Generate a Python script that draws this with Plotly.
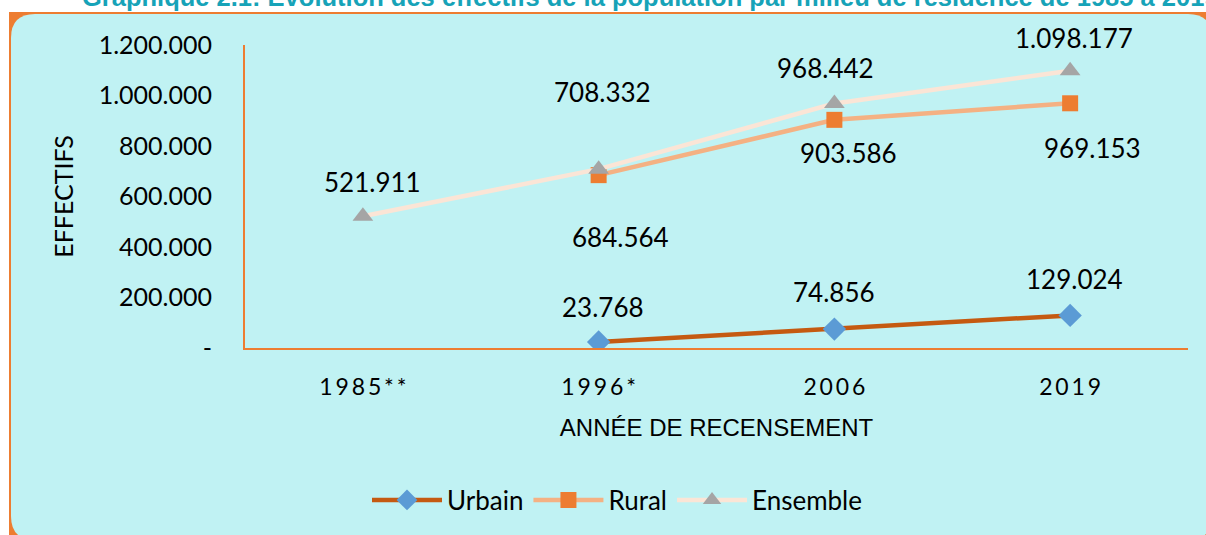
import plotly.graph_objects as go

# ---- data ----
categories = ["1985**", "1996*", "2006", "2019"]
urbain = [None, 23768, 74856, 129024]
rural = [None, 684564, 903586, 969153]
ensemble = [521911, 708332, 968442, 1098177]
ytick_vals = [0, 200000, 400000, 600000, 800000, 1000000, 1200000]
ytick_text = ["-", "200.000", "400.000", "600.000", "800.000", "1.000.000", "1.200.000"]
title_text = "Graphique 2.1: Evolution des effectifs de la population par milieu de résidence de 1985 à 2019"

# ---- layout helpers ----
W, H = 1206, 535
L, R, T, B = 245, 18, 45, 187
PW, PH = W - L - R, H - T - B


def px(x):
    return (x - L) / PW


def py(y):
    return (H - B - y) / PH


def fmt(v):
    return f"{v:,.0f}".replace(",", ".")


def spaced(s):
    return "\u2009".join(s)


FONT = "Lato"
fig = go.Figure()

series = [
    ("Urbain", urbain, "#C55A11", "#5B9BD5", "diamond", 18),
    ("Rural", rural, "#F4B183", "#ED7D31", "square", 16),
    ("Ensemble", ensemble, "#FBE5D6", "#A5A5A5", "triangle-up", 18),
]
for name, vals, lc, mc, sym, ms in series:
    fig.add_trace(go.Scatter(
        x=categories, y=vals, name=name, mode="lines+markers",
        line=dict(color=lc, width=4.5),
        marker=dict(color=mc, symbol=sym, size=ms),
        connectgaps=False,
    ))

# label offsets (px): (series values, x shift, y shift)
label_offsets = [
    (urbain, [0, 4, 0, 4], [0, 35, 37, 36]),
    (rural, [0, 22, 14, 22], [0, -62, -33, -45]),
    (ensemble, [10, 4, -9, 4], [34, 77, 35, 33]),
]
for vals, xs, ys in label_offsets:
    for i, (v, dx, dy) in enumerate(zip(vals, xs, ys)):
        if v is None:
            continue
        fig.add_annotation(x=i, y=v, text=fmt(v), showarrow=False,
                           xshift=dx, yshift=dy,
                           font=dict(family=FONT, size=26, color="#000000"))

# background shapes
r = 24
x0, x1, y0, y1 = 11, 1212, 14, 540
rx, ry = r / PW, r / PH
path = (f"M {px(x0)+rx} {py(y0)} L {px(x1)-rx} {py(y0)} Q {px(x1)} {py(y0)} {px(x1)} {py(y0)-ry} "
        f"L {px(x1)} {py(y1)+ry} Q {px(x1)} {py(y1)} {px(x1)-rx} {py(y1)} "
        f"L {px(x0)+rx} {py(y1)} Q {px(x0)} {py(y1)} {px(x0)} {py(y1)+ry} "
        f"L {px(x0)} {py(y0)-ry} Q {px(x0)} {py(y0)} {px(x0)+rx} {py(y0)} Z")
fig.add_shape(type="rect", xref="paper", yref="paper", layer="below",
              x0=px(9), x1=px(1214), y0=py(12), y1=py(540),
              fillcolor="#ED7D31", line=dict(width=0))
fig.add_shape(type="path", xref="paper", yref="paper", layer="below",
              path=path, fillcolor="#C0F2F3", line=dict(width=0))

# title (cut at top)
fig.add_annotation(xref="paper", yref="paper", x=px(80), y=py(13),
                   xanchor="left", yanchor="bottom", text=f"<b>{title_text}</b>",
                   showarrow=False,
                   font=dict(family="Liberation Sans Narrow, Arial Narrow, sans-serif",
                             size=25.5, color="#17A3B8"))

fig.update_layout(
    width=W, height=H,
    margin=dict(l=L, r=R, t=T, b=B, pad=0),
    paper_bgcolor="white",
    plot_bgcolor="rgba(0,0,0,0)",
    font=dict(family=FONT, color="#000000"),
    showlegend=True,
    legend=dict(orientation="h", xanchor="center", yanchor="middle",
                x=px(617), y=py(500), font=dict(family=FONT, size=26),
                bgcolor="rgba(0,0,0,0)", itemwidth=70, tracegroupgap=0),
    xaxis=dict(
        type="category", categoryorder="array", categoryarray=categories,
        range=[-0.5, 3.5], tickmode="array", tickvals=categories,
        ticktext=[spaced(c) for c in categories],
        showgrid=False, zeroline=False, showline=True,
        linecolor="#ED7D31", linewidth=2, ticks="",
        ticklabelstandoff=17,
        tickfont=dict(family=FONT, size=23),
        title=dict(text="ANNÉE DE RECENSEMENT",
                   font=dict(family="Liberation Sans, Arial, sans-serif", size=24), standoff=21),
    ),
    yaxis=dict(
        range=[0, 1200000], tickmode="array", tickvals=ytick_vals, ticktext=ytick_text,
        showgrid=False, zeroline=False, showline=True,
        linecolor="#ED7D31", linewidth=2, ticks="",
        ticklabelstandoff=26,
        tickfont=dict(family=FONT, size=25),
        title=dict(text="EFFECTIFS", font=dict(family=FONT, size=25), standoff=18),
    ),
)

fig.write_html("out.html", config={"displayModeBar": False},
               post_script="document.body.style.margin='0';document.body.style.overflow='hidden';")
